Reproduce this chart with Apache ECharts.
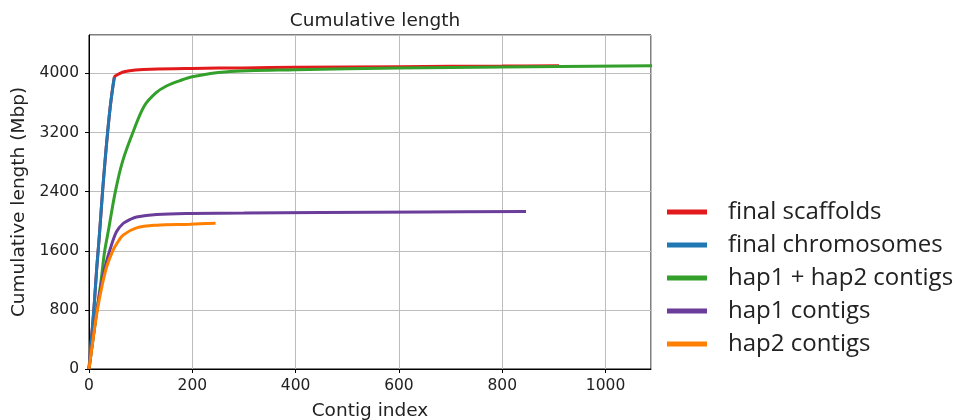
<!DOCTYPE html>
<html lang="en">
<head>
    <meta charset="UTF-8">
    <title>Cumulative length</title>
    <script src="https://cdn.jsdelivr.net/npm/echarts@6/dist/echarts.min.js"></script>
</head>
<body style="margin: 0; background: #fff">
    <div id="container" style="width: 970px; height: 420px"></div>
    <script type="text/javascript">
        // values (contig index, cumulative Mbp)
        var scaffoldX = [0, 5, 10, 15, 20, 26, 31, 36, 42, 49, 52, 58, 70, 90, 120, 200, 300, 400, 600, 800, 910];
        var scaffoldY = [0, 430, 860, 1370, 1800, 2380, 2810, 3200, 3600, 3945, 3970, 3995, 4025, 4045, 4058, 4068, 4075, 4082, 4092, 4100, 4105];

        var chromX = [0, 5, 10, 15, 20, 26, 31, 36, 42, 49];
        var chromY = [0, 430, 860, 1370, 1800, 2380, 2810, 3200, 3600, 3945];

        var bothX = [0, 8, 16, 24, 30, 38, 51, 65, 85, 107, 130, 150, 175, 200, 263, 400, 600, 800, 1090];
        var bothY = [0, 420, 830, 1230, 1580, 1890, 2400, 2810, 3200, 3560, 3740, 3830, 3900, 3955, 4020, 4050, 4073, 4088, 4103];

        var hap1X = [0, 8, 16, 26, 33, 40, 53, 66, 80, 92, 131, 195, 300, 450, 650, 846];
        var hap1Y = [0, 430, 830, 1220, 1430, 1600, 1855, 1969, 2025, 2058, 2090, 2104, 2110, 2117, 2124, 2130];

        var hap2X = [0, 8, 16, 26, 35, 46, 54, 66, 92, 131, 195, 245];
        var hap2Y = [0, 410, 790, 1150, 1400, 1600, 1698, 1811, 1909, 1946, 1959, 1973];

        var names = ['final scaffolds', 'final chromosomes', 'hap1 + hap2 contigs', 'hap1 contigs', 'hap2 contigs'];
        var colors = ['#e31a1c', '#1f78b4', '#33a02c', '#6a3d9a', '#ff7f00'];
        var xs = [scaffoldX, chromX, bothX, hap1X, hap2X];
        var ys = [scaffoldY, chromY, bothY, hap1Y, hap2Y];

        var xTicks = [0, 200, 400, 600, 800, 1000];
        var yTicks = [0, 800, 1600, 2400, 3200, 4000];

        function pairs(x, y) {
            var out = [];
            for (var i = 0; i < x.length; i++) out.push([x[i], y[i]]);
            return out;
        }

        var series = [];
        for (var k = 0; k < names.length; k++) {
            series.push({
                name: names[k],
                type: 'line',
                data: pairs(xs[k], ys[k]),
                showSymbol: false,
                smooth: 0.35,
                color: colors[k],
                itemStyle: { color: colors[k] },
                lineStyle: { color: colors[k], width: 3 },
                z: 2 + k
            });
        }

        var axisFont = { fontFamily: 'DejaVu Sans', fontSize: 15.5, color: '#222' };

        var myChart = echarts.init(document.getElementById('container'), null, { renderer: 'canvas' });
        var option = {
            animation: false,
            title: {
                text: 'Cumulative length',
                left: 370,
                top: 7,
                textAlign: 'center',
                textStyle: { fontFamily: 'DejaVu Sans', fontSize: 18.5, fontWeight: 'normal', color: '#222' }
            },
            grid: {
                left: 89, top: 35, width: 562, height: 334,
                outerBoundsMode: 'none',
                containLabel: false,
                show: true, borderColor: '#000', borderWidth: 1, backgroundColor: 'transparent'
            },
            legend: {
                orient: 'vertical',
                left: 667,
                top: 198,
                padding: 0,
                icon: 'rect',
                itemWidth: 40,
                itemHeight: 5,
                itemGap: 5,
                data: names,
                textStyle: {
                    fontFamily: 'Open Sans', fontSize: 24, color: '#222',
                    lineHeight: 28, padding: [0, 0, 0, 16]
                }
            },
            xAxis: {
                type: 'value',
                min: 0,
                max: 1088,
                interval: 200,
                name: 'Contig index',
                nameLocation: 'middle',
                nameGap: 33,
                nameTextStyle: { fontFamily: 'DejaVu Sans', fontSize: 18.5, color: '#222' },
                axisLine: { show: true, lineStyle: { color: '#000' } },
                axisTick: { show: true, length: 4, lineStyle: { color: '#000' } },
                axisLabel: Object.assign({
                    margin: 9, showMaxLabel: false,
                    formatter: function (v) { return xTicks.indexOf(v) >= 0 ? String(v) : ''; }
                }, axisFont),
                splitLine: { show: true, lineStyle: { color: '#bdbdbd', width: 1 } }
            },
            yAxis: {
                type: 'value',
                min: 0,
                max: 4520,
                interval: 800,
                name: 'Cumulative length (Mbp)',
                nameLocation: 'middle',
                nameGap: 51,
                nameTextStyle: { fontFamily: 'DejaVu Sans', fontSize: 18.5, color: '#222' },
                axisLine: { show: true, lineStyle: { color: '#000' } },
                axisTick: { show: true, length: 4, lineStyle: { color: '#000' } },
                axisLabel: Object.assign({
                    margin: 10, showMaxLabel: false,
                    formatter: function (v) { return yTicks.indexOf(v) >= 0 ? String(v) : ''; }
                }, axisFont),
                splitLine: { show: true, lineStyle: { color: '#bdbdbd', width: 1 } }
            },
            series: series
        };

        myChart.setOption(option);
        window.addEventListener('resize', myChart.resize);
    </script>
</body>
</html>
